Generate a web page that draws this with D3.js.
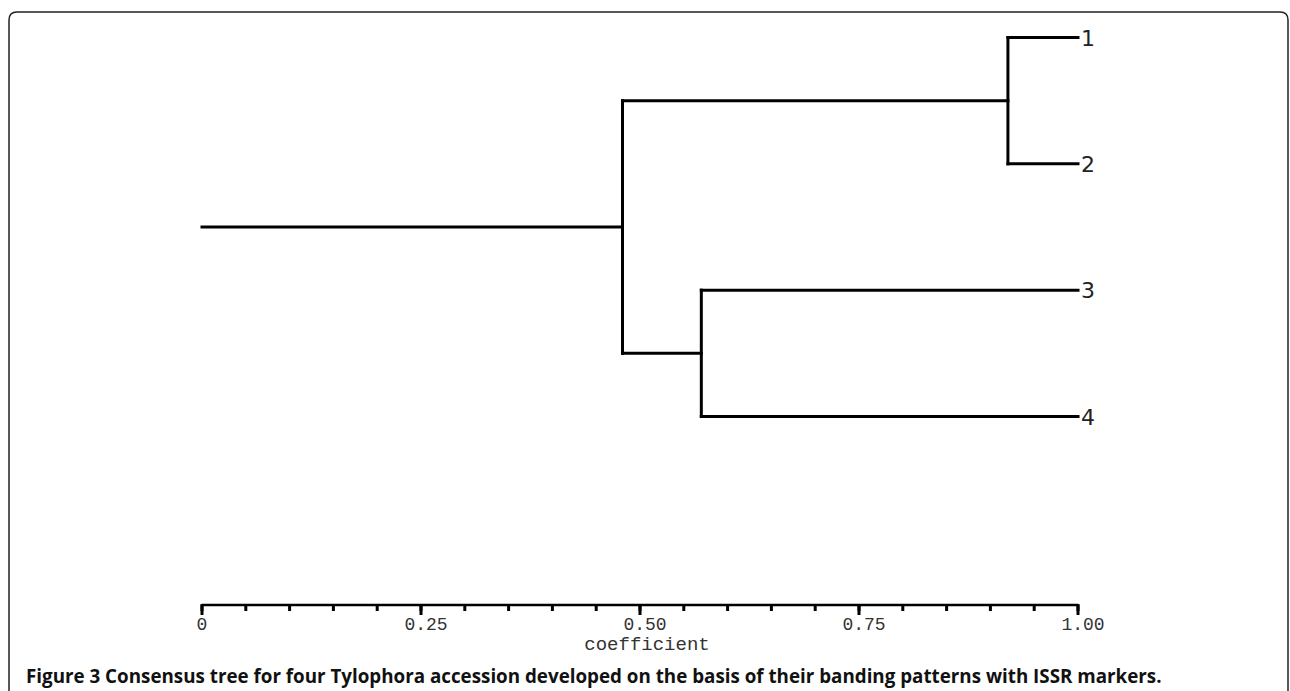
<!DOCTYPE html>
<html><head><meta charset="utf-8">
<script src="https://cdn.jsdelivr.net/npm/d3@7"></script>
<style>
html,body{margin:0;padding:0;background:#fff;}
svg{display:block;}
</style></head>
<body>
<svg id="chart" width="1290" height="691"></svg>
<script>
// Leaves (top to bottom)
const leafNames = ["1", "2", "3", "4"];
// Merge coefficients of internal nodes
const mergeCoef12 = 0.92;
const mergeCoef34 = 0.57;
const mergeCoefRoot = 0.48;
const rootStart = 0;
const leafCoef = 1.0;
// Axis
const majorTicks = [0, 0.25, 0.5, 0.75, 1.0];
const tickLabels = ["0", "0.25", "0.50", "0.75", "1.00"];
const axisTitle = "coefficient";
const caption = "Figure 3 Consensus tree for four Tylophora accession developed on the basis of their banding patterns with ISSR markers.";

const svg = d3.select("#chart");

// Frame (rounded top corners, open at the bottom)
const fx0 = 9, fy0 = 12, fx1 = 1288, r = 8;
svg.append("path")
  .attr("d", `M${fx0},700 L${fx0},${fy0 + r} Q${fx0},${fy0} ${fx0 + r},${fy0} L${fx1 - r},${fy0} Q${fx1},${fy0} ${fx1},${fy0 + r} L${fx1},700`)
  .attr("fill", "none").attr("stroke", "#222").attr("stroke-width", 1.5);

const x = d3.scaleLinear().domain([0, 1]).range([202, 1078]);
const y = d3.scalePoint().domain(leafNames).range([37.5, 416.5]);

const tree = {
  h: mergeCoefRoot, children: [
    { h: mergeCoef12, children: [{ name: "1", h: leafCoef }, { name: "2", h: leafCoef }] },
    { h: mergeCoef34, children: [{ name: "3", h: leafCoef }, { name: "4", h: leafCoef }] }
  ]
};
function ypos(n) {
  if (n.name) return y(n.name);
  return d3.mean(n.children, ypos);
}
const g = svg.append("g").attr("fill", "none").attr("stroke", "#000").attr("stroke-width", 3).attr("stroke-linecap", "square");
function draw(n) {
  if (!n.children) return;
  const ys = n.children.map(ypos);
  g.append("line").attr("x1", x(n.h)).attr("x2", x(n.h)).attr("y1", d3.min(ys)).attr("y2", d3.max(ys));
  n.children.forEach(c => {
    g.append("line").attr("x1", x(n.h)).attr("x2", x(c.h)).attr("y1", ypos(c)).attr("y2", ypos(c));
    draw(c);
  });
}
// root stem
g.append("line").attr("x1", x(rootStart)).attr("x2", x(tree.h)).attr("y1", ypos(tree)).attr("y2", ypos(tree));
draw(tree);

// Leaf labels
svg.append("g").selectAll("text").data(leafNames).join("text")
  .attr("x", x(leafCoef) + 3).attr("y", d => y(d) + 8)
  .attr("font-family", "DejaVu Sans, sans-serif").attr("font-size", 22).attr("fill", "#222")
  .text(d => d);

// Axis
const axisY = 605;
const ax = svg.append("g");
ax.append("line").attr("x1", x(0)).attr("x2", x(1)).attr("y1", axisY).attr("y2", axisY)
  .attr("stroke", "#000").attr("stroke-width", 2.5);
ax.selectAll("line.minor").data(x.ticks(20)).join("line").attr("class", "minor")
  .attr("x1", d => x(d)).attr("x2", d => x(d)).attr("y1", axisY).attr("y2", axisY + 6)
  .attr("stroke", "#000").attr("stroke-width", 3);
ax.selectAll("line.major").data(majorTicks).join("line").attr("class", "major")
  .attr("x1", d => x(d)).attr("x2", d => x(d)).attr("y1", axisY - 1).attr("y2", axisY + 10)
  .attr("stroke", "#000").attr("stroke-width", 3);
ax.selectAll("text.tl").data(majorTicks).join("text").attr("class", "tl")
  .attr("x", (d, i) => x(d) + (tickLabels[i].length > 1 ? 5 : 0)).attr("y", 630)
  .attr("text-anchor", "middle")
  .attr("font-family", "Liberation Mono, Courier New, monospace").attr("font-size", 18).attr("fill", "#333")
  .text((d, i) => tickLabels[i]);
svg.append("text").attr("x", 647).attr("y", 650).attr("text-anchor", "middle")
  .attr("font-family", "Liberation Mono, Courier New, monospace").attr("font-size", 19).attr("fill", "#333")
  .text(axisTitle);

// Caption
svg.append("text").attr("x", 26).attr("y", 683)
  .attr("font-family", "Open Sans, sans-serif").attr("font-weight", "bold").attr("font-size", 18.8).attr("fill", "#111")
  .text(caption);
</script>
</body></html>
